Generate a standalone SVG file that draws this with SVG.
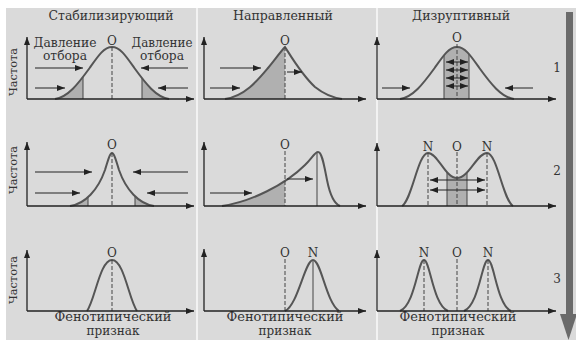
<svg xmlns="http://www.w3.org/2000/svg" width="576" height="340" viewBox="0 0 576 340">
<style>
.t{font-family:"DejaVu Serif","Liberation Serif",serif;font-size:12px;fill:#333;}
.s{font-family:"DejaVu Serif","Liberation Serif",serif;font-size:11px;fill:#333;}
.m{text-anchor:middle;}
.ax{stroke:#222;stroke-width:1.3;fill:none;marker-end:url(#ah);}
.ar{stroke:#222;stroke-width:1;fill:none;marker-end:url(#ah);}
.ar2{stroke:#222;stroke-width:1;fill:none;marker-end:url(#ah);marker-start:url(#ah);}
.cv{stroke:#555;stroke-width:2;fill:none;}
.sh{fill:#b0b0b0;}
.vl{stroke:#444;stroke-width:1;}
.dl{stroke:#444;stroke-width:1;stroke-dasharray:4 2;}
</style>
<defs>
<marker id="ah" viewBox="0 0 8 6" refX="8" refY="3" markerWidth="8" markerHeight="6" markerUnits="userSpaceOnUse" orient="auto-start-reverse"><path d="M0,0 L8,3 L0,6 z" fill="#222"/></marker>
<clipPath id="c11"><path d="M55,99 C68,97 78,84 90,67.5 C98,56 104,47 112,47 C120,47 126,56 134,67.5 C146,84 156,97 169,99 Z"/></clipPath>
<clipPath id="c12"><path d="M225,99 C245,96 258,80 268,68 C276,58 282,50 285,47 C292,58 302,75 315,87 C325,95 335,98 342,99 Z"/></clipPath>
<clipPath id="c13"><path d="M400,99 C413,97 423,84 435,67.5 C443,56 449,47 457,47 C465,47 471,56 479,67.5 C491,84 501,97 514,99 Z"/></clipPath>
<clipPath id="c21"><path d="M70,206 C85,204 98,190 105,170 C108,160 110,153 112,153 C114,153 116,160 119,170 C126,190 139,204 154,206 Z"/></clipPath>
<clipPath id="c22"><path d="M222,206 C250,202 285,185 305,165 C312,158 315,152 318,152 C322,152 324,165 327,180 C330,195 335,204 340,206 Z"/></clipPath>
<clipPath id="c23"><path d="M402,206 C412,200 418,153 428,153 C438,153 445,178 457,178 C469,178 477,153 487,153 C497,153 503,200 513,206 Z"/></clipPath>
<clipPath id="c32"><path d="M285,311 C298,305 305,260 313,260 C321,260 326,302 339,311 Z"/></clipPath>
</defs>
<rect x="0" y="0" width="576" height="340" fill="#ffffff"/>
<rect x="6" y="8" width="570" height="332" fill="#dadada"/>
<rect x="196" y="8" width="2" height="332" fill="#f2f2f2"/>
<rect x="376" y="8" width="2" height="332" fill="#f2f2f2"/>
<g id="flow-arrow">
<rect x="566" y="12" width="7" height="306" fill="#6a6a6a"/>
<polygon points="560,314 577,314 568.5,340" fill="#6a6a6a"/>
</g>
<g id="titles">
<text class="t m" x="111" y="20" textLength="125" lengthAdjust="spacingAndGlyphs">Стабилизирующий</text>
<text class="t m" x="283" y="20" textLength="100" lengthAdjust="spacingAndGlyphs">Направленный</text>
<text class="t m" x="461" y="20" textLength="98" lengthAdjust="spacingAndGlyphs">Дизруптивный</text>
<text class="t m" x="557" y="72">1</text>
<text class="t m" x="557" y="175">2</text>
<text class="t m" x="557" y="283">3</text>
</g>
<g id="axis-labels">
<text class="s m" transform="translate(17,72) rotate(-90)" textLength="48" lengthAdjust="spacingAndGlyphs">Частота</text>
<text class="s m" transform="translate(17,170) rotate(-90)" textLength="48" lengthAdjust="spacingAndGlyphs">Частота</text>
<text class="s m" transform="translate(17,280) rotate(-90)" textLength="48" lengthAdjust="spacingAndGlyphs">Частота</text>
<text class="t m" x="113" y="321" textLength="117" lengthAdjust="spacingAndGlyphs">Фенотипический</text>
<text class="t m" x="113" y="335">признак</text>
<text class="t m" x="285" y="321" textLength="117" lengthAdjust="spacingAndGlyphs">Фенотипический</text>
<text class="t m" x="285" y="335">признак</text>
<text class="t m" x="458" y="321" textLength="117" lengthAdjust="spacingAndGlyphs">Фенотипический</text>
<text class="t m" x="458" y="335">признак</text>
</g>
<g id="p11">
<text class="t m" x="65" y="47" textLength="63" lengthAdjust="spacingAndGlyphs">Давление</text>
<text class="t m" x="65" y="60" textLength="44" lengthAdjust="spacingAndGlyphs">отбора</text>
<text class="t m" x="162" y="47" textLength="61" lengthAdjust="spacingAndGlyphs">Давление</text>
<text class="t m" x="162" y="60" textLength="44" lengthAdjust="spacingAndGlyphs">отбора</text>
<g clip-path="url(#c11)"><rect class="sh" x="50" y="40" width="33" height="60"/><rect class="sh" x="142" y="40" width="30" height="60"/><line class="vl" x1="83" y1="40" x2="83" y2="99"/><line class="vl" x1="142" y1="40" x2="142" y2="99"/></g>
<path class="cv" d="M55,99 C68,97 78,84 90,67.5 C98,56 104,47 112,47 C120,47 126,56 134,67.5 C146,84 156,97 169,99"/>
<line class="dl" x1="112" y1="47" x2="112" y2="99"/>
<text class="t m" x="112" y="45">O</text>
</g>
<g id="p12">
<g clip-path="url(#c12)"><rect class="sh" x="220" y="40" width="65" height="60"/></g>
<path class="cv" d="M225,99 C245,96 258,80 268,68 C276,58 282,50 285,47 C292,58 302,75 315,87 C325,95 335,98 342,99"/>
<line class="dl" x1="285" y1="47" x2="285" y2="99"/>
<text class="t m" x="285" y="45">O</text>
</g>
<g id="p13">
<g clip-path="url(#c13)"><rect class="sh" x="444" y="40" width="25" height="60"/><line class="vl" x1="444" y1="40" x2="444" y2="99"/><line class="vl" x1="469" y1="40" x2="469" y2="99"/></g>
<path class="cv" d="M400,99 C413,97 423,84 435,67.5 C443,56 449,47 457,47 C465,47 471,56 479,67.5 C491,84 501,97 514,99"/>
<line class="dl" x1="457" y1="44" x2="457" y2="99"/>
<text class="t m" x="457" y="42">O</text>
</g>
<g id="p21">
<g clip-path="url(#c21)"><rect class="sh" x="65" y="145" width="23" height="62"/><rect class="sh" x="135" y="145" width="25" height="62"/><line class="vl" x1="88" y1="145" x2="88" y2="206"/><line class="vl" x1="135" y1="145" x2="135" y2="206"/></g>
<path class="cv" d="M70,206 C85,204 98,190 105,170 C108,160 110,153 112,153 C114,153 116,160 119,170 C126,190 139,204 154,206"/>
<line class="dl" x1="112" y1="153" x2="112" y2="206"/>
<text class="t m" x="112" y="149">O</text>
</g>
<g id="p22">
<g clip-path="url(#c22)"><rect class="sh" x="220" y="145" width="65" height="62"/><line class="vl" x1="317" y1="145" x2="317" y2="206"/></g>
<path class="cv" d="M222,206 C250,202 285,185 305,165 C312,158 315,152 318,152 C322,152 324,165 327,180 C330,195 335,204 340,206"/>
<line class="dl" x1="285" y1="151" x2="285" y2="206"/>
<text class="t m" x="285" y="149">O</text>
</g>
<g id="p23">
<g clip-path="url(#c23)"><rect class="sh" x="447" y="145" width="20" height="62"/><line class="vl" x1="447" y1="145" x2="447" y2="206"/><line class="vl" x1="467" y1="145" x2="467" y2="206"/></g>
<path class="cv" d="M402,206 C412,200 418,153 428,153 C438,153 445,178 457,178 C469,178 477,153 487,153 C497,153 503,200 513,206"/>
<line class="dl" x1="428" y1="153" x2="428" y2="206"/>
<line class="dl" x1="457" y1="152" x2="457" y2="206"/>
<line class="dl" x1="487" y1="153" x2="487" y2="206"/>
<text class="t m" x="428" y="151">N</text>
<text class="t m" x="457" y="151">O</text>
<text class="t m" x="487" y="151">N</text>
</g>
<g id="p31">
<path class="cv" d="M87,311 C95,300 100,260 112,260 C124,260 129,300 137,311"/>
<line class="dl" x1="112" y1="260" x2="112" y2="311"/>
<text class="t m" x="112" y="257">O</text>
</g>
<g id="p32">
<g clip-path="url(#c32)"><line class="vl" x1="313" y1="255" x2="313" y2="311"/></g>
<path class="cv" d="M285,311 C298,305 305,260 313,260 C321,260 326,302 339,311"/>
<line class="dl" x1="285" y1="259" x2="285" y2="311"/>
<text class="t m" x="285" y="257">O</text>
<text class="t m" x="313" y="257">N</text>
</g>
<g id="p33">
<path class="cv" d="M400,311 C415,305 418,260 424,260 C430,260 433,305 448,311"/>
<path class="cv" d="M464,311 C479,305 482,260 488,260 C494,260 497,305 511,311"/>
<line class="dl" x1="424" y1="260" x2="424" y2="311"/>
<line class="dl" x1="457" y1="259" x2="457" y2="311"/>
<line class="dl" x1="488" y1="260" x2="488" y2="311"/>
<text class="t m" x="424" y="257">N</text>
<text class="t m" x="457" y="257">O</text>
<text class="t m" x="488" y="257">N</text>
</g>
<g id="connectors">
<line class="ax" x1="27" y1="99" x2="27" y2="37"/>
<line class="ax" x1="27" y1="99" x2="194" y2="99"/>
<line class="ax" x1="204" y1="99" x2="204" y2="37"/>
<line class="ax" x1="204" y1="99" x2="366" y2="99"/>
<line class="ax" x1="377" y1="99" x2="377" y2="37"/>
<line class="ax" x1="377" y1="99" x2="556" y2="99"/>
<line class="ax" x1="27" y1="206" x2="27" y2="142"/>
<line class="ax" x1="27" y1="206" x2="194" y2="206"/>
<line class="ax" x1="204" y1="206" x2="204" y2="142"/>
<line class="ax" x1="204" y1="206" x2="366" y2="206"/>
<line class="ax" x1="377" y1="206" x2="377" y2="143"/>
<line class="ax" x1="377" y1="206" x2="556" y2="206"/>
<line class="ax" x1="27" y1="311" x2="27" y2="250"/>
<line class="ax" x1="27" y1="311" x2="194" y2="311"/>
<line class="ax" x1="204" y1="311" x2="204" y2="249"/>
<line class="ax" x1="204" y1="311" x2="366" y2="311"/>
<line class="ax" x1="377" y1="311" x2="377" y2="250"/>
<line class="ax" x1="377" y1="311" x2="556" y2="311"/>
<line class="ar" x1="35" y1="68" x2="83" y2="68"/>
<line class="ar" x1="35" y1="88" x2="65" y2="88"/>
<line class="ar" x1="188" y1="68" x2="141" y2="68"/>
<line class="ar" x1="188" y1="88" x2="158" y2="88"/>
<line class="ar" x1="220" y1="68" x2="261" y2="68"/>
<line class="ar" x1="210" y1="88" x2="240" y2="88"/>
<line class="ar" x1="287" y1="72" x2="302" y2="72"/>
<line class="ar" x1="382" y1="88" x2="410" y2="88"/>
<line class="ar" x1="533" y1="88" x2="505" y2="88"/>
<line class="ar2" x1="446" y1="62" x2="468" y2="62"/>
<line class="ar2" x1="446" y1="70" x2="468" y2="70"/>
<line class="ar2" x1="446" y1="78" x2="468" y2="78"/>
<line class="ar2" x1="446" y1="86" x2="468" y2="86"/>
<line class="ar" x1="35" y1="172" x2="92" y2="172"/>
<line class="ar" x1="35" y1="193" x2="80" y2="193"/>
<line class="ar" x1="188" y1="172" x2="133" y2="172"/>
<line class="ar" x1="188" y1="193" x2="147" y2="193"/>
<line class="ar" x1="210" y1="193" x2="252" y2="193"/>
<line class="ar" x1="287" y1="179" x2="313" y2="179"/>
<line class="ar2" x1="430" y1="180" x2="485" y2="180"/>
<line class="ar2" x1="430" y1="190" x2="485" y2="190"/>
</g>
</svg>
